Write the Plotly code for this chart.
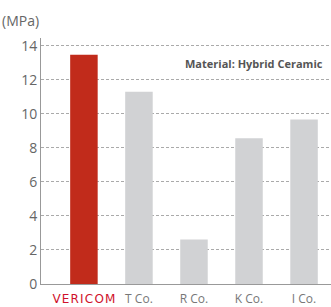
import plotly.graph_objects as go

categories = ["VERICOM", "T Co.", "R Co.", "K Co.", "I Co."]
values = [13.46, 11.30, 2.61, 8.56, 9.67]
tick_vals = [0, 2, 4, 6, 8, 10, 12, 14]
bar_colors = ["#C12B1B", "#D1D2D4", "#D1D2D4", "#D1D2D4", "#D1D2D4"]

tick_text = ['<span style="color:#D0112B;font-family:DejaVu Sans;font-size:12px">V\u200aE\u200aR\u200aI\u200aC\u200aO\u200aM</span>'] + categories[1:]

fig = go.Figure()
fig.add_trace(go.Bar(
    x=categories, y=values, marker=dict(color=bar_colors, line=dict(width=0)),
    width=0.5, hoverinfo="skip",
))

fig.update_layout(
    width=331, height=307,
    margin=dict(l=41, r=0, t=38, b=21),
    paper_bgcolor="white", plot_bgcolor="white",
    showlegend=False,
    font=dict(family="Open Sans", color="#666666"),
    xaxis=dict(
        type="category", range=[-0.78, 4.49],
        tickvals=categories, ticktext=tick_text,
        tickfont=dict(size=12, color="#777777"),
        ticklabelstandoff=4,
        showgrid=False, showline=True, linecolor="#999999", linewidth=1,
        ticks="", zeroline=False,
    ),
    yaxis=dict(
        range=[0, 14.45], tickvals=tick_vals,
        tickfont=dict(size=14, color="#666666"),
        showgrid=True, gridcolor="#AAAAAA", griddash="3px,2px", gridwidth=1,
        showline=True, linecolor="#999999", linewidth=1,
        zeroline=False, ticks="",
    ),
    annotations=[
        dict(text="(MPa)", xref="paper", yref="paper", x=-41/290, y=1 + 18/248,
             xanchor="left", yanchor="middle", showarrow=False,
             font=dict(size=14, color="#666666")),
        dict(text="<b>Material: Hybrid Ceramic</b>", xref="paper", yref="paper",
             x=(325-41)/290, y=(286-64)/248, xanchor="right", yanchor="middle",
             showarrow=False, font=dict(size=11, color="#555555")),
    ],
)

fig.write_html("out.html", config={"displayModeBar": False},
               post_script="document.body.style.margin='0';document.body.style.overflow='hidden';")
